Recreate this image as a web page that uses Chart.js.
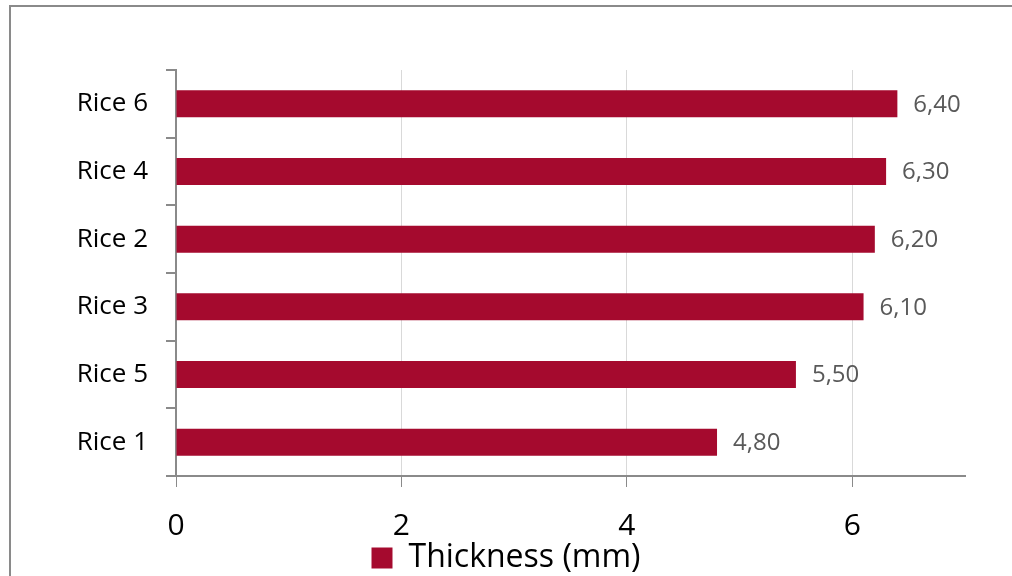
<!DOCTYPE html>
<html>
<head>
<meta charset="utf-8">
<title>Thickness (mm)</title>
<script src="https://cdn.jsdelivr.net/npm/chart.js@4.4.1/dist/chart.umd.min.js"></script>
<style>
  html, body { margin: 0; padding: 0; background: #ffffff; overflow: hidden; }
  canvas { display: block; }
</style>
</head>
<body>
<canvas id="chart" width="1012" height="576"></canvas>
<script>
// Rice samples, listed top to bottom
const categories = ['Rice 6', 'Rice 4', 'Rice 2', 'Rice 3', 'Rice 5', 'Rice 1'];
// Grain thickness per sample, in mm
const thickness = [6.40, 6.30, 6.20, 6.10, 5.50, 4.80];
// Value axis ticks
const xTicks = [0, 2, 4, 6];
const seriesName = 'Thickness (mm)';

const BAR_COLOR = '#A50A2E';
const FONT = '"Open Sans", Lato, sans-serif';

// Thin grey frame around the whole figure
const framePlugin = {
  id: 'frame',
  beforeDraw(chart) {
    const ctx = chart.ctx;
    ctx.save();
    ctx.fillStyle = '#ffffff';
    ctx.fillRect(0, 0, chart.width, chart.height);
    ctx.strokeStyle = '#8a8a8a';
    ctx.lineWidth = 2;
    ctx.strokeRect(10, 6, chart.width + 40, chart.height + 40);
    ctx.restore();
  }
};

// Value written just past the end of each bar, with a decimal comma
const valueLabelPlugin = {
  id: 'valueLabels',
  afterDatasetsDraw(chart) {
    const ctx = chart.ctx;
    ctx.save();
    ctx.font = '24px ' + FONT;
    ctx.fillStyle = '#595959';
    ctx.textAlign = 'left';
    ctx.textBaseline = 'middle';
    chart.data.datasets.forEach((ds, di) => {
      chart.getDatasetMeta(di).data.forEach((bar, i) => {
        const txt = ds.data[i].toFixed(2).replace('.', ',');
        ctx.fillText(txt, bar.x + 16, bar.y + 1);
      });
    });
    ctx.restore();
  }
};

new Chart(document.getElementById('chart'), {
  type: 'bar',
  data: {
    labels: categories,
    datasets: [{
      label: seriesName,
      data: thickness,
      backgroundColor: BAR_COLOR,
      borderWidth: 0,
      barPercentage: 1,
      categoryPercentage: 0.4
    }]
  },
  options: {
    indexAxis: 'y',
    responsive: false,
    animation: false,
    layout: { padding: { top: 70, right: 0, left: 0, bottom: -8 } },
    plugins: {
      tooltip: { enabled: false },
      legend: {
        position: 'bottom',
        labels: {
          boxWidth: 21,
          boxHeight: 21,
          padding: 6,
          color: '#000000',
          font: { family: FONT, size: 32 }
        }
      }
    },
    scales: {
      x: {
        min: 0,
        max: 7,
        afterBuildTicks(scale) {
          scale.ticks = xTicks.map(v => ({ value: v }));
        },
        afterFit(scale) { scale.height = 60; },
        grid: {
          color: '#d9d9d9',
          lineWidth: 1,
          tickColor: '#8a8a8a',
          tickLength: 11,
          drawTicks: true
        },
        border: { display: true, color: '#8a8a8a', width: 2 },
        ticks: {
          color: '#000000',
          padding: 21,
          font: { family: FONT, size: 30 }
        }
      },
      y: {
        afterFit(scale) { scale.width = 176; },
        grid: {
          offset: true,
          drawOnChartArea: false,
          drawTicks: true,
          tickLength: 10,
          tickColor: '#8a8a8a',
          lineWidth: 2
        },
        border: { display: true, color: '#8a8a8a', width: 2 },
        ticks: {
          color: '#000000',
          padding: 18,
          font: { family: FONT, size: 26 }
        }
      },
      // Empty right-hand margin that keeps room for the value labels
      yMargin: {
        type: 'category',
        axis: 'y',
        position: 'right',
        afterFit(scale) { scale.width = 47; },
        grid: { display: false, drawTicks: false },
        border: { display: false },
        ticks: { display: false }
      }
    }
  },
  plugins: [framePlugin, valueLabelPlugin]
});
</script>
</body>
</html>
